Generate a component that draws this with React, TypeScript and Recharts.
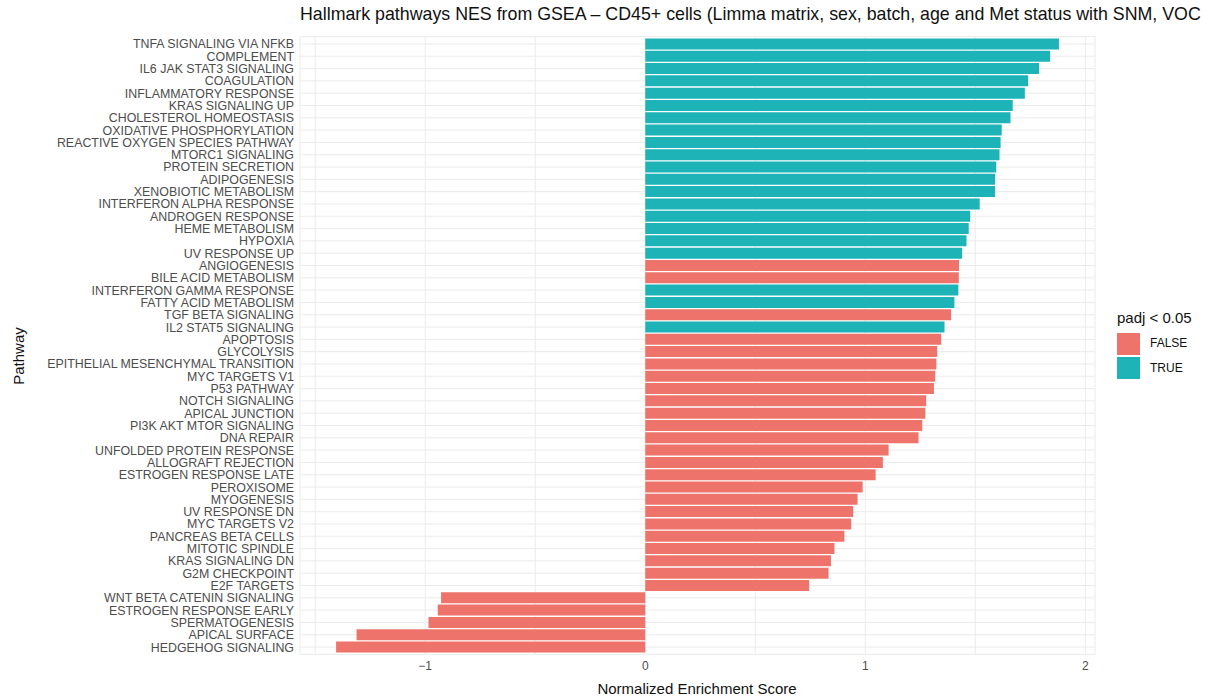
import { BarChart, Bar, XAxis, YAxis, CartesianGrid, Cell } from 'recharts'

const pathways = [
  'TNFA SIGNALING VIA NFKB', 'COMPLEMENT', 'IL6 JAK STAT3 SIGNALING', 'COAGULATION',
  'INFLAMMATORY RESPONSE', 'KRAS SIGNALING UP', 'CHOLESTEROL HOMEOSTASIS', 'OXIDATIVE PHOSPHORYLATION',
  'REACTIVE OXYGEN SPECIES PATHWAY', 'MTORC1 SIGNALING', 'PROTEIN SECRETION', 'ADIPOGENESIS',
  'XENOBIOTIC METABOLISM', 'INTERFERON ALPHA RESPONSE', 'ANDROGEN RESPONSE', 'HEME METABOLISM',
  'HYPOXIA', 'UV RESPONSE UP', 'ANGIOGENESIS', 'BILE ACID METABOLISM',
  'INTERFERON GAMMA RESPONSE', 'FATTY ACID METABOLISM', 'TGF BETA SIGNALING', 'IL2 STAT5 SIGNALING',
  'APOPTOSIS', 'GLYCOLYSIS', 'EPITHELIAL MESENCHYMAL TRANSITION', 'MYC TARGETS V1',
  'P53 PATHWAY', 'NOTCH SIGNALING', 'APICAL JUNCTION', 'PI3K AKT MTOR SIGNALING',
  'DNA REPAIR', 'UNFOLDED PROTEIN RESPONSE', 'ALLOGRAFT REJECTION', 'ESTROGEN RESPONSE LATE',
  'PEROXISOME', 'MYOGENESIS', 'UV RESPONSE DN', 'MYC TARGETS V2',
  'PANCREAS BETA CELLS', 'MITOTIC SPINDLE', 'KRAS SIGNALING DN', 'G2M CHECKPOINT',
  'E2F TARGETS', 'WNT BETA CATENIN SIGNALING', 'ESTROGEN RESPONSE EARLY', 'SPERMATOGENESIS',
  'APICAL SURFACE', 'HEDGEHOG SIGNALING',
]

const nes = [
  1.88, 1.84, 1.79, 1.74, 1.725, 1.67, 1.66, 1.62, 1.615, 1.61, 1.595, 1.59,
  1.59, 1.52, 1.477, 1.47, 1.46, 1.44, 1.426, 1.425, 1.423, 1.405, 1.39, 1.36,
  1.345, 1.327, 1.323, 1.318, 1.312, 1.277, 1.273, 1.259, 1.242, 1.106, 1.08, 1.047,
  0.988, 0.965, 0.945, 0.936, 0.905, 0.86, 0.844, 0.833, 0.745,
  -0.928, -0.943, -0.985, -1.312, -1.405,
]

const padjSig = [
  true, true, true, true, true, true, true, true, true, true, true, true,
  true, true, true, true, true, true, false, false, true, true, false, true,
  false, false, false, false, false, false, false, false, false, false, false, false,
  false, false, false, false, false, false, false, false, false,
  false, false, false, false, false,
]

const xTicks = [-1.5, -1, -0.5, 0, 0.5, 1, 1.5, 2]

const data = pathways.map((p, i) => ({ pathway: p, nes: nes[i], sig: padjSig[i] }))

const RED = '#ee736b'
const TEAL = '#1db3b7'
const font = '"Liberation Sans", Arial, sans-serif'

// plain tick so long names don't wrap
const PathwayTick = (props: any) => {
  const { x, y, payload } = props
  return (
    <text x={x} y={y} dy="0.36em" textAnchor="end" fontSize={12.4} fill="#4d4d4d" fontFamily={font}>
      {payload.value}
    </text>
  )
}

export default function App() {
  return (
    <div style={{ position: 'absolute', left: 0, top: 0, width: 1210, height: 699, background: '#fff', fontFamily: font }}>
      <div style={{ position: 'absolute', left: 300, top: 4, fontSize: 17.8, color: '#111', whiteSpace: 'nowrap' }}>
        Hallmark pathways NES from GSEA – CD45+ cells (Limma matrix, sex, batch, age and Met status with SNM, VOC
      </div>
      <BarChart
        width={1210}
        height={699}
        data={data}
        layout="vertical"
        margin={{ top: 36.6, right: 115, bottom: 0, left: 0 }}
        barCategoryGap="5%"
      >
        <CartesianGrid stroke="#ebebeb" />
        <XAxis
          type="number"
          dataKey="nes"
          domain={[-1.569, 2.044]}
          ticks={xTicks}
          tickFormatter={(v: number) => (Number.isInteger(v) ? (v < 0 ? `−${-v}` : `${v}`) : '')}
          axisLine={false}
          tickLine={false}
          tickSize={0}
          tickMargin={7}
          height={44.6}
          tick={{ fontSize: 12, fill: '#4d4d4d', fontFamily: font }}
          allowDataOverflow
        />
        <YAxis
          type="category"
          dataKey="pathway"
          width={300}
          interval={0}
          axisLine={false}
          tickLine={false}
          tickSize={0}
          tickMargin={6}
          padding={{ top: 1.2, bottom: 1.2 }}
          tick={<PathwayTick />}
        />
        <Bar dataKey="nes" isAnimationActive={false}>
          {data.map((d) => (
            <Cell key={d.pathway} fill={d.sig ? TEAL : RED} />
          ))}
        </Bar>
      </BarChart>
      <div style={{ position: 'absolute', left: 697, top: 680, transform: 'translateX(-50%)', fontSize: 15, color: '#111', whiteSpace: 'nowrap' }}>
        Normalized Enrichment Score
      </div>
      <div style={{ position: 'absolute', left: 18, top: 356, transform: 'translate(-50%, -50%) rotate(-90deg)', fontSize: 15, color: '#111', whiteSpace: 'nowrap' }}>
        Pathway
      </div>
      <div style={{ position: 'absolute', left: 1117, top: 309, fontSize: 15, color: '#111', whiteSpace: 'nowrap' }}>
        padj &lt; 0.05
      </div>
      <div style={{ position: 'absolute', left: 1117, top: 333, width: 23, height: 22, background: RED }} />
      <div style={{ position: 'absolute', left: 1117, top: 357, width: 23, height: 22, background: TEAL }} />
      <div style={{ position: 'absolute', left: 1150, top: 336, fontSize: 12, color: '#111' }}>FALSE</div>
      <div style={{ position: 'absolute', left: 1150, top: 361, fontSize: 12, color: '#111' }}>TRUE</div>
    </div>
  )
}
